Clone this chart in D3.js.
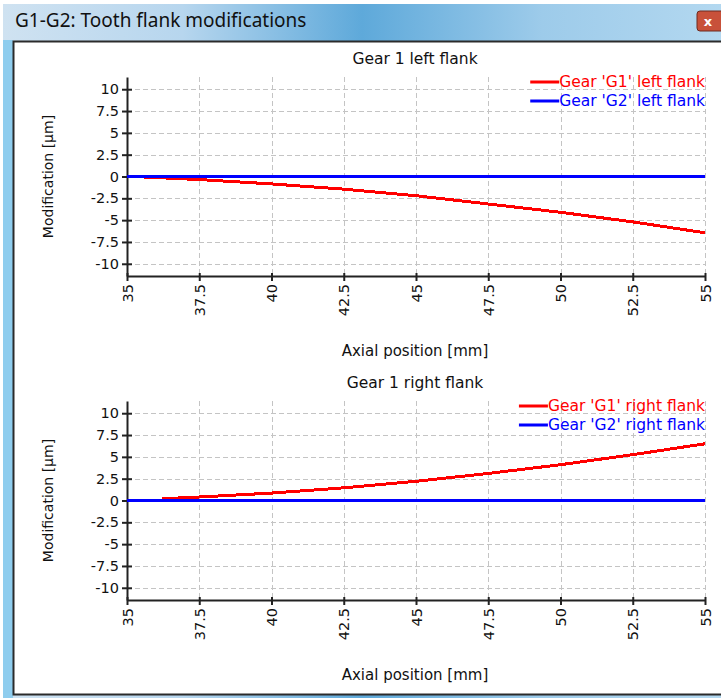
<!DOCTYPE html>
<html>
<head>
<meta charset="utf-8">
<script src="https://cdn.jsdelivr.net/npm/d3@7"></script>
<style>
  body { margin: 0; background: #fff; }
  svg { display: block; }
  .tick text { font-family: "DejaVu Sans", sans-serif; }
</style>
</head>
<body>
<script>
// tick values
var xTicks = [35, 37.5, 40, 42.5, 45, 47.5, 50, 52.5, 55];
var yTicks = [10, 7.5, 5, 2.5, 0, -2.5, -5, -7.5, -10];

// left flank data
var leftG1X = [35.2, 37.5, 40, 42.5, 45, 47.5, 50, 52.5, 55];
var leftG1Y = [0, -0.35, -0.85, -1.45, -2.2, -3.15, -4.1, -5.2, -6.45];
var leftG2X = [35, 55];
var leftG2Y = [0, 0];

// right flank data
var rightG1X = [36.2, 37.5, 40, 42.5, 45, 47.5, 50, 52.5, 55];
var rightG1Y = [0.2, 0.4, 0.85, 1.45, 2.2, 3.1, 4.1, 5.25, 6.5];
var rightG2X = [35, 55];
var rightG2Y = [0, 0];

var W = 721, H = 698;
var font = "'DejaVu Sans', sans-serif";
var fs = 14.5;

var svg = d3.select("body").append("svg")
    .attr("width", W)
    .attr("height", H);

// --- window frame ---
var defs = svg.append("defs");
var grad = defs.append("linearGradient").attr("id", "titlebar");
grad.append("stop").attr("offset", "0%").attr("stop-color", "#cfe2f1");
grad.append("stop").attr("offset", "25%").attr("stop-color", "#b7d6ee");
grad.append("stop").attr("offset", "50%").attr("stop-color", "#5ea9da");
grad.append("stop").attr("offset", "75%").attr("stop-color", "#9dcbea");
grad.append("stop").attr("offset", "100%").attr("stop-color", "#b3d8f0");

svg.append("rect").attr("x", 0).attr("y", 0).attr("width", W).attr("height", H).attr("fill", "#ffffff");
svg.append("rect").attr("x", 3).attr("y", 4).attr("width", W - 3).attr("height", H - 4).attr("fill", "url(#titlebar)");
svg.append("rect").attr("x", 3).attr("y", 40).attr("width", 10).attr("height", H - 40).attr("fill", "#8fcdee");
svg.append("rect").attr("x", 13.5).attr("y", 41.5).attr("width", W).attr("height", 653)
    .attr("fill", "#ffffff").attr("stroke", "#2b2b2b").attr("stroke-width", 2);

svg.append("text")
    .attr("x", 15).attr("y", 27)
    .attr("font-family", "'Noto Sans', 'Open Sans', sans-serif")
    .attr("font-size", 19)
    .attr("fill", "#111")
    .text("G1-G2: Tooth flank modifications");

// close button
var closeBtn = svg.append("g").attr("transform", "translate(697,11)");
closeBtn.append("rect").attr("width", 30).attr("height", 20).attr("rx", 3)
    .attr("fill", "#c8513a").attr("stroke", "#6e2a1e");
closeBtn.append("text").attr("x", 11).attr("y", 15)
    .attr("font-family", font).attr("font-size", 13).attr("font-weight", "bold")
    .attr("fill", "#fff").attr("text-anchor", "middle").text("x");

// --- charts ---
var x = d3.scaleLinear().domain([35, 55]).range([127, 705]);
var fmt = d => String(d);

function drawChart(top, title, series) {
    var bottom = top + 199;
    var y = d3.scaleLinear().domain([-11.4, 11.4]).range([bottom, top]);
    var g = svg.append("g");

    g.append("text")
        .attr("x", 415).attr("y", top - 13)
        .attr("text-anchor", "middle")
        .attr("font-family", font).attr("font-size", 15.5)
        .attr("fill", "#111")
        .text(title);

    // grid
    g.append("g").selectAll("line").data(yTicks).join("line")
        .attr("x1", x(35)).attr("x2", x(55))
        .attr("y1", d => Math.round(y(d)) + 0.5).attr("y2", d => Math.round(y(d)) + 0.5)
        .attr("stroke", "#c4c4c4").attr("stroke-dasharray", "5,3");
    g.append("g").selectAll("line").data(xTicks.slice(1)).join("line")
        .attr("x1", d => Math.round(x(d)) + 0.5).attr("x2", d => Math.round(x(d)) + 0.5)
        .attr("y1", top).attr("y2", bottom)
        .attr("stroke", "#c4c4c4").attr("stroke-dasharray", "5,3");

    // axes
    var yAxis = g.append("g")
        .attr("transform", "translate(" + x(35) + ",0)")
        .call(d3.axisLeft(y).tickValues(yTicks).tickFormat(fmt).tickSizeOuter(0));
    yAxis.selectAll(".tick line").attr("x1", -5).attr("x2", 5).attr("stroke", "#222").attr("stroke-width", 2);
    yAxis.selectAll(".tick text").attr("x", -8).attr("font-size", fs).attr("fill", "#111");
    yAxis.select(".domain").attr("stroke", "#222").attr("stroke-width", 2);

    var xAxis = g.append("g")
        .attr("transform", "translate(0," + bottom + ")")
        .call(d3.axisBottom(x).tickValues(xTicks).tickFormat(fmt).tickSizeOuter(0));
    xAxis.selectAll(".tick line").attr("y1", -3).attr("y2", 5).attr("stroke", "#222").attr("stroke-width", 2);
    xAxis.select(".domain").attr("stroke", "#222").attr("stroke-width", 2);
    xAxis.selectAll(".tick text")
        .attr("transform", "rotate(-90)")
        .attr("x", -8).attr("y", 0).attr("dy", "0.35em")
        .attr("text-anchor", "end")
        .attr("font-size", fs).attr("fill", "#111");

    g.append("text")
        .attr("x", 415).attr("y", bottom + 80)
        .attr("text-anchor", "middle")
        .attr("font-family", font).attr("font-size", 15)
        .attr("fill", "#111")
        .text("Axial position [mm]");

    g.append("text")
        .attr("transform", "translate(53," + y(0) + ") rotate(-90)")
        .attr("text-anchor", "middle")
        .attr("font-family", font).attr("font-size", 14)
        .attr("fill", "#111")
        .text("Modification [\u00b5m]");

    // lines
    var line = d3.line().x(d => x(d[0])).y(d => y(d[1]));
    series.forEach(function(s) {
        g.append("path")
            .datum(d3.zip(s.xs, s.ys))
            .attr("d", line)
            .attr("fill", "none")
            .attr("stroke", s.color)
            .attr("stroke-width", 3)
            .attr("shape-rendering", "crispEdges");
    });

    // legend
    series.forEach(function(s, i) {
        var ly = top + 5 + i * 19;
        var t = g.append("text")
            .attr("x", 705).attr("y", ly).attr("dy", "0.35em")
            .attr("text-anchor", "end")
            .attr("font-family", font).attr("font-size", 15.5)
            .attr("fill", s.color)
            .text(s.name);
        var tx = 705 - t.node().getComputedTextLength();
        g.append("line")
            .attr("x1", tx - 29).attr("x2", tx)
            .attr("y1", ly).attr("y2", ly)
            .attr("stroke", s.color).attr("stroke-width", 3);
    });
}

drawChart(77, "Gear 1 left flank", [
    {name: "Gear 'G1' left flank", color: "#ff0000", xs: leftG1X, ys: leftG1Y},
    {name: "Gear 'G2' left flank", color: "#0000ff", xs: leftG2X, ys: leftG2Y}
]);

drawChart(401, "Gear 1 right flank", [
    {name: "Gear 'G1' right flank", color: "#ff0000", xs: rightG1X, ys: rightG1Y},
    {name: "Gear 'G2' right flank", color: "#0000ff", xs: rightG2X, ys: rightG2Y}
]);
</script>
</body>
</html>
